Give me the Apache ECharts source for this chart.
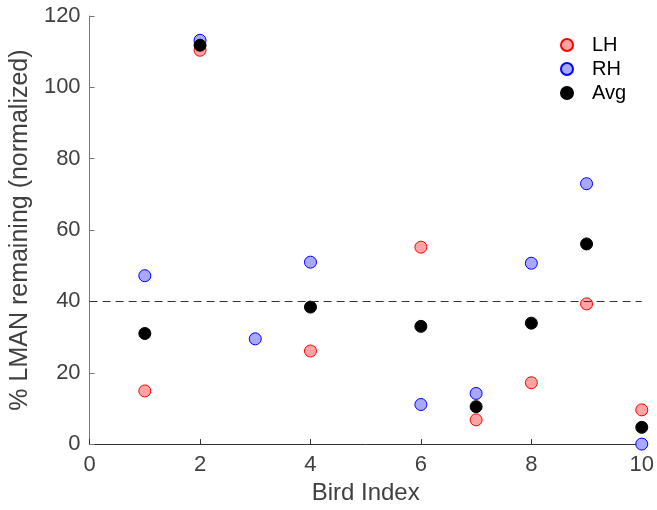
<!DOCTYPE html>
<html><head><meta charset="utf-8">
<script src="https://cdn.jsdelivr.net/npm/echarts@6/dist/echarts.min.js"></script>
<style>html,body{margin:0;padding:0;background:#fff}#c{width:657px;height:510px}</style>
</head><body><div id="c"></div>
<script>
const lhX = [1, 2, 4, 6, 7, 8, 9, 10];
const lhY = [14.9, 110.4, 26.1, 55.2, 6.8, 17.2, 39.3, 9.6];
const rhX = [1, 2, 3, 4, 6, 7, 8, 9, 10];
const rhY = [47.2, 113.2, 29.5, 51.0, 11.1, 14.2, 50.7, 73.0, 0];
const avgX = [1, 2, 4, 6, 7, 8, 9, 10];
const avgY = [31.0, 111.8, 38.4, 33.0, 10.5, 33.9, 56.1, 4.7];
const threshold = 40;
const xRange = [0, 10];
const yRange = [0, 120];

const pts = (xs, ys) => xs.map((x, i) => [x, ys[i]]);
const font = '"Liberation Sans", Arial, sans-serif';
const chart = echarts.init(document.getElementById('c'), null, {renderer: 'canvas'});
chart.setOption({
  animation: false,
  backgroundColor: '#fff',
  grid: {left: 87, right: 14, top: 16, bottom: 62, containLabel: false},
  xAxis: {
    type: 'value', min: xRange[0], max: xRange[1], interval: 2,
    name: 'Bird Index', nameLocation: 'middle', nameGap: 36,
    nameTextStyle: {fontFamily: font, fontSize: 24, color: '#404040'},
    axisLine: {lineStyle: {color: '#333', width: 1}},
    axisTick: {inside: true, length: 5, lineStyle: {color: '#333'}},
    axisLabel: {fontFamily: font, fontSize: 22, color: '#404040', margin: 10},
    splitLine: {show: false}
  },
  yAxis: {
    type: 'value', min: yRange[0], max: yRange[1], interval: 20,
    name: '% LMAN remaining (normalized)', nameLocation: 'middle', nameGap: 47,
    nameTextStyle: {fontFamily: font, fontSize: 25, color: '#404040'},
    axisLine: {show: true, lineStyle: {color: '#777', width: 1}},
    axisTick: {show: true, inside: true, length: 5, lineStyle: {color: '#777'}},
    axisLabel: {fontFamily: font, fontSize: 22, color: '#404040', margin: 9},
    splitLine: {show: false}
  },
  legend: {
    orient: 'vertical', left: 555, top: 30, itemWidth: 12, itemHeight: 12, itemGap: 4,
    textStyle: {fontFamily: font, fontSize: 20, color: '#000', lineHeight: 19, padding: [0, 0, 0, 14]},
    data: [{name: 'LH', icon: 'circle'}, {name: 'RH', icon: 'circle'}, {name: 'Avg', icon: 'circle'}]
  },
  series: [
    {name: 'LH', type: 'scatter', symbolSize: 12, data: pts(lhX, lhY),
     itemStyle: {color: '#ffa3a3', borderColor: '#ff0000', borderWidth: 1, opacity: 1},
     markLine: {silent: true, symbol: 'none', label: {show: false},
       lineStyle: {color: '#333', type: [8, 5], width: 1},
       data: [[{coord: [xRange[0], threshold]}, {coord: [xRange[1], threshold]}]]}},
    {name: 'RH', type: 'scatter', symbolSize: 12, data: pts(rhX, rhY),
     itemStyle: {color: '#a8a8ff', borderColor: '#0000ff', borderWidth: 1, opacity: 1}},
    {name: 'Avg', type: 'scatter', symbolSize: 12, data: pts(avgX, avgY),
     itemStyle: {color: '#000', borderColor: '#000', borderWidth: 1, opacity: 1}}
  ]
});
</script></body></html>
